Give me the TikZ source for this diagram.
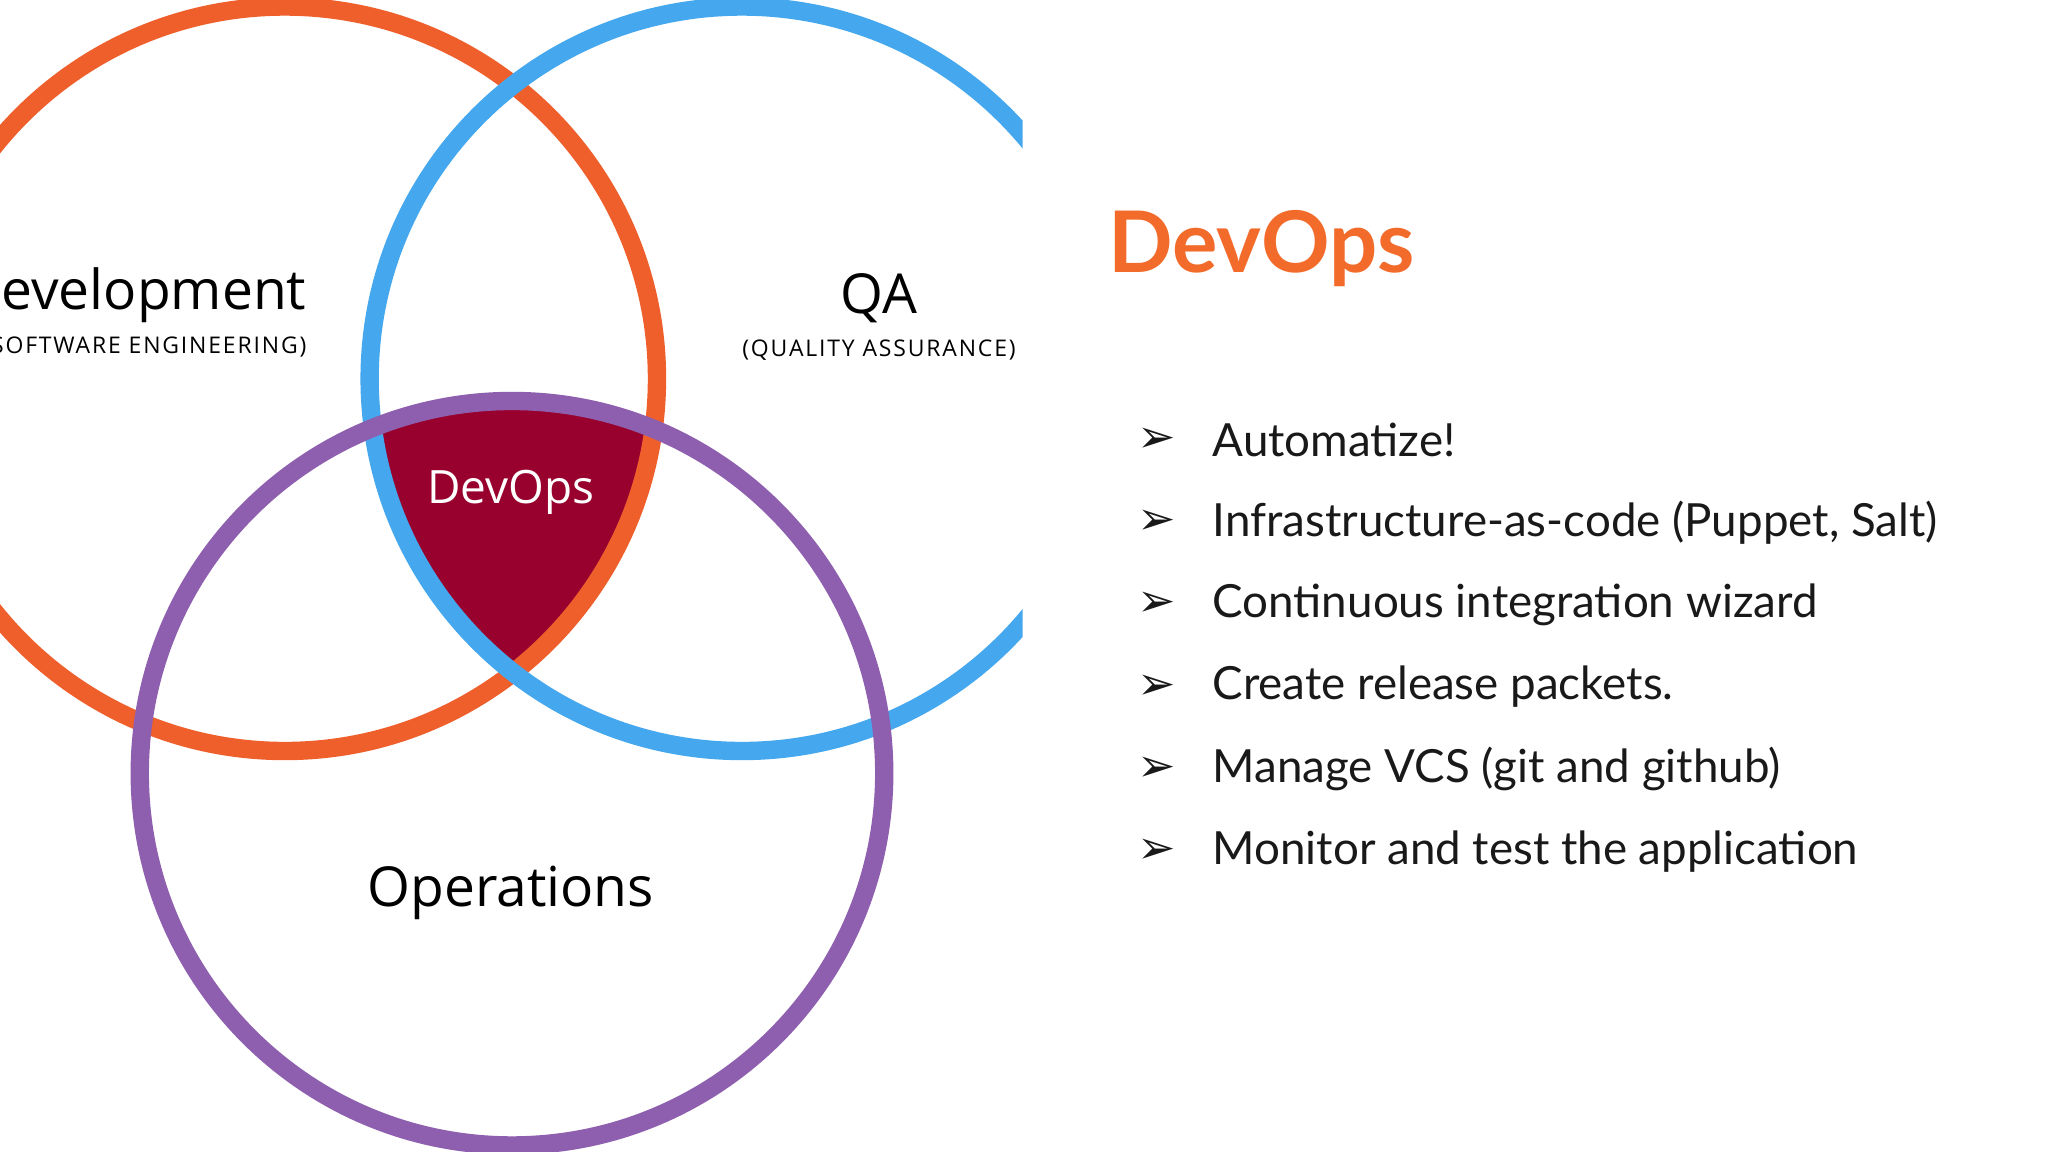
\documentclass[tikz,border=0pt]{standalone}
\usepackage{fontspec}
\setmainfont{Lato}
\newfontfamily\vennfont{Open Sans}
\newfontfamily\symfont{DejaVu Sans}
\definecolor{dorange}{HTML}{EE5F2C}
\definecolor{dblue}{HTML}{45A8EE}
\definecolor{dpurple}{HTML}{8E5FAE}
\definecolor{dred}{HTML}{98002E}
\definecolor{torange}{HTML}{F26B2A}
\begin{document}
\begin{tikzpicture}[x=0.01cm,y=-0.01cm,
  ring/.style={line width=4pt},
  bul/.style={anchor=west,font=\fontsize{9.95}{12}\selectfont,text=black!90}]
\useasboundingbox (0,0) rectangle (1568,882);
\fill[white] (0,0) rectangle (1568,882);
\begin{scope}
\clip (0,0) rectangle (783,882);
\begin{scope}
\clip (218,290) circle (285);
\clip (568,290) circle (285);
\fill[dred] (392,592) circle (285);
\end{scope}
\draw[ring,dorange] (218,290) circle (285);
\draw[ring,dblue] (568,290) circle (285);
\draw[ring,dpurple] (392,592) circle (285);
\node[font=\vennfont\fontsize{12}{14}\selectfont,anchor=east] (dev) at (247,226) {Development};
\node[font=\vennfont\fontsize{5}{6}\selectfont,anchor=east] (devs) at (247,266) {\addfontfeature{LetterSpace=8}(SOFTWARE ENGINEERING)};
\end{scope}
\node[font=\vennfont\fontsize{12}{14}\selectfont] (qa) at (673,228) {QA};
\node[font=\vennfont\fontsize{5}{6}\selectfont] (qas) at (673,268) {\addfontfeature{LetterSpace=8}(QUALITY ASSURANCE)};
\node[font=\vennfont\fontsize{10}{12}\selectfont,text=white] (dvo) at (391,377) {DevOps};
\node[font=\vennfont\fontsize{12}{14}\selectfont] (ops) at (391,684) {Operations};
\node[font=\bfseries\fontsize{18.5}{20}\selectfont,text=torange,anchor=west] (title) at (836,190) {DevOps};
\foreach \t [count=\i] in {Automatize!,{Infrastructure-as-code (Puppet, Salt)},Continuous integration wizard,Create release packets.,Manage VCS (git and github),Monitor and test the application}{
  \node[font=\symfont\fontsize{10}{12}\selectfont,text=black!90] (b\i) at (886,274+63*\i) {➢};
  \node[bul] (t\i) at (916,274+63*\i) {\t};
}
\end{tikzpicture}
\end{document}
